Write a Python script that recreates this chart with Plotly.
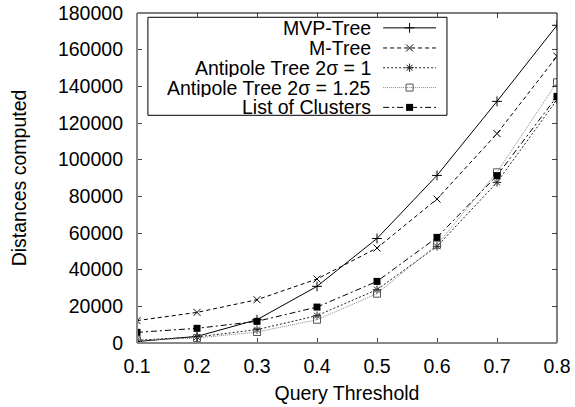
import plotly.graph_objects as go

thresholds = [0.1, 0.2, 0.3, 0.4, 0.5, 0.6, 0.7, 0.8]

mvp_tree = [800, 3600, 12700, 30900, 57000, 91400, 131800, 173300]
m_tree = [12200, 16700, 23600, 34900, 51800, 78500, 114200, 156400]
antipole_1 = [1500, 3300, 7300, 14900, 29100, 52700, 87600, 132700]
antipole_125 = [1500, 2700, 6000, 12700, 26900, 53600, 93100, 142200]
list_clusters = [5800, 8000, 11800, 19600, 33600, 57600, 91300, 134500]

series_names = ["MVP-Tree", "M-Tree", "Antipole Tree 2σ = 1",
                "Antipole Tree 2σ = 1.25", "List of Clusters"]
series_values = [mvp_tree, m_tree, antipole_1, antipole_125, list_clusters]

y_ticks = [0, 20000, 40000, 60000, 80000, 100000, 120000, 140000, 160000, 180000]

FONT = "Liberation Sans, Arial, sans-serif"
FS = 19.5

styles = [
    dict(line=dict(color="black", width=1, dash="solid"),
         marker=dict(symbol="cross-thin-open", size=7, color="black",
                     line=dict(color="black", width=1))),
    dict(line=dict(color="black", width=1, dash="4px,3px"),
         marker=dict(symbol="x-thin-open", size=7, color="black",
                     line=dict(color="black", width=1))),
    dict(line=dict(color="#222", width=1, dash="2px,2px"),
         marker=dict(symbol="asterisk-open", size=7, color="#222",
                     line=dict(color="#222", width=1))),
    dict(line=dict(color="#888", width=1, dash="1px,1px"),
         marker=dict(symbol="square-open", size=7, color="#555",
                     line=dict(color="#555", width=1))),
    dict(line=dict(color="black", width=1, dash="6px,3px,2px,3px"),
         marker=dict(symbol="square", size=7, color="black",
                     line=dict(color="black", width=0))),
]

fig = go.Figure()
for name, vals, st in zip(series_names, series_values, styles):
    fig.add_trace(go.Scatter(x=thresholds, y=vals, name=name, mode="lines+markers",
                             line=st["line"], marker=st["marker"], showlegend=False))

# custom gnuplot-style legend: right-aligned text, sample on the right
leg_y = [0.955, 0.894, 0.834, 0.774, 0.714]
sample_x0, sample_x1, sample_xm = 0.586, 0.712, 0.649
for name, st, yy in zip(series_names, styles, leg_y):
    fig.add_trace(go.Scatter(x=[sample_x0, sample_x1], y=[yy, yy], mode="lines",
                             line=st["line"], xaxis="x2", yaxis="y2",
                             showlegend=False, hoverinfo="skip"))
    fig.add_trace(go.Scatter(x=[sample_xm], y=[yy], mode="markers",
                             marker=st["marker"], xaxis="x2", yaxis="y2",
                             showlegend=False, hoverinfo="skip"))
    fig.add_annotation(text=name, xref="x2", yref="y2", x=0.560, y=yy,
                       xanchor="right", yanchor="middle", showarrow=False,
                       height=18, valign="middle", borderpad=0,
                       font=dict(family=FONT, size=FS, color="black"))

fig.add_shape(type="rect", xref="x domain", yref="y domain",
              x0=0.026, x1=0.738, y0=0.690, y1=0.987,
              line=dict(color="black", width=1), fillcolor="white", layer="below")

# frame
fig.add_shape(type="rect", xref="x domain", yref="y domain", x0=0, x1=1, y0=0, y1=1,
              line=dict(color="black", width=1), layer="above")
fig.add_shape(type="line", xref="x domain", yref="y domain", x0=0, x1=1, y0=0, y1=0,
              line=dict(color="#888", width=2), layer="above")
fig.add_shape(type="line", xref="x domain", yref="y domain", x0=0, x1=0, y0=0, y1=1,
              line=dict(color="#888", width=2), layer="above")

fig.update_layout(
    width=575, height=407,
    margin=dict(l=137, r=17.5, t=13, b=64, autoexpand=False),
    paper_bgcolor="white", plot_bgcolor="white",
    font=dict(family=FONT, size=FS, color="black"),
    xaxis=dict(range=[0.1, 0.8], tickvals=thresholds,
               ticktext=[f"{t:.1f}" for t in thresholds],
               ticks="inside", ticklen=5, tickcolor="#444", mirror="ticks",
               showline=False, showgrid=False, zeroline=False,
               ticklabelstandoff=9, automargin=False,
               title=dict(text="Query Threshold", standoff=10,
                          font=dict(family=FONT, size=FS))),
    yaxis=dict(range=[0, 180000], tickvals=y_ticks,
               ticktext=[str(v) for v in y_ticks],
               ticks="inside", ticklen=5, tickcolor="#444", mirror="ticks",
               showline=False, showgrid=False, zeroline=False,
               ticklabelstandoff=13, automargin=False,
               title=dict(text="Distances computed", standoff=26,
                          font=dict(family=FONT, size=FS))),
    xaxis2=dict(range=[0, 1], overlaying="x", visible=False, fixedrange=True),
    yaxis2=dict(range=[0, 1], overlaying="y", visible=False, fixedrange=True),
)

fig.write_html("out.html")
